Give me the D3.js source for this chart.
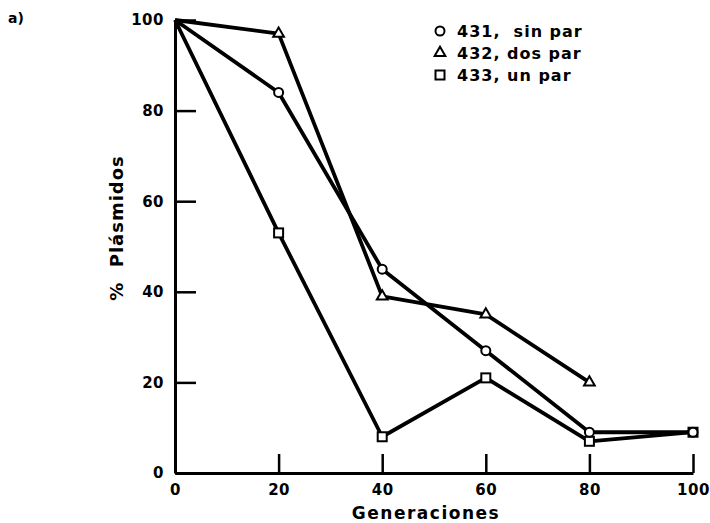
<!DOCTYPE html>
<html>
<head>
<meta charset="utf-8">
<script src="https://cdn.jsdelivr.net/npm/d3@7"></script>
<style>
  body { margin: 0; background: #fff; }
  svg text { font-family: "DejaVu Sans", sans-serif; font-weight: bold; fill: #000; }
</style>
</head>
<body>
<div id="chart"></div>
<script>
// generations on the x axis
const generaciones = [0, 20, 40, 60, 80, 100];
const xTicks = [0, 20, 40, 60, 80, 100];
const yTicks = [0, 20, 40, 60, 80, 100];

// % plasmids retained
const sinPar431 = [100, 84, 45, 27, 9, 9];
const dosPar432 = [100, 97, 39, 35, 20];
const unPar433 = [100, 53, 8, 21, 7, 9];

const seriesNames = ['431,  sin par', '432, dos par', '433, un par'];
const seriesShapes = ['circle', 'triangle', 'square'];

const width = 710;
const height = 523;

const svg = d3.select('#chart')
  .append('svg')
  .attr('width', width)
  .attr('height', height);

const x = d3.scaleLinear().domain([0, 100]).range([175, 693]);
const y = d3.scaleLinear().domain([0, 100]).range([473, 20]);

// axes, ticks point inward
const xAxis = svg.append('g')
  .attr('transform', 'translate(0,' + y(0) + ')')
  .call(d3.axisBottom(x).tickValues(xTicks).tickSizeInner(-19).tickSizeOuter(0).tickPadding(11));

const yAxis = svg.append('g')
  .attr('transform', 'translate(' + x(0) + ',0)')
  .call(d3.axisLeft(y).tickValues(yTicks).tickSizeInner(-21).tickSizeOuter(0).tickPadding(11));

[xAxis, yAxis].forEach(function(ax) {
  ax.select('.domain').attr('stroke', '#000').attr('stroke-width', 3);
  ax.selectAll('.tick line').attr('stroke', '#000').attr('stroke-width', 2.5);
  ax.selectAll('.tick text').style('font-size', '15px').style('letter-spacing', '0.5px');
});

const line = d3.line()
  .x(function(d) { return x(d[0]); })
  .y(function(d) { return y(d[1]); });

const allSeries = [sinPar431, dosPar432, unPar433].map(function(vals) {
  return vals.map(function(v, i) { return [generaciones[i], v]; });
});

svg.selectAll('path.serie')
  .data(allSeries)
  .enter()
  .append('path')
  .attr('class', 'serie')
  .attr('d', line)
  .attr('fill', 'none')
  .attr('stroke', '#000')
  .attr('stroke-width', 3.8)
  .attr('stroke-linejoin', 'round');

function drawMarker(g, shape, cx, cy) {
  if (shape === 'circle') {
    g.append('circle').attr('cx', cx).attr('cy', cy).attr('r', 4.5)
      .attr('fill', '#fff').attr('stroke', '#000').attr('stroke-width', 2);
  } else if (shape === 'square') {
    g.append('rect').attr('x', cx - 4.5).attr('y', cy - 4.5).attr('width', 9).attr('height', 9)
      .attr('fill', '#fff').attr('stroke', '#000').attr('stroke-width', 2);
  } else {
    g.append('path')
      .attr('d', d3.symbol().type(d3.symbolTriangle).size(50)())
      .attr('transform', 'translate(' + cx + ',' + cy + ')')
      .attr('fill', '#fff').attr('stroke', '#000').attr('stroke-width', 2);
  }
}

// squares first so the circle sits on top where they meet at 100
const markers = svg.append('g');
[2, 1, 0].forEach(function(s) {
  allSeries[s].forEach(function(d, i) {
    if (i === 0) return; // origin point is buried under the converging lines
    drawMarker(markers, seriesShapes[s], x(d[0]), y(d[1]));
  });
});

// legend
const legend = svg.append('g');
seriesNames.forEach(function(name, i) {
  const ly = 31 + i * 22;
  drawMarker(legend, seriesShapes[i], 440, ly);
  legend.append('text')
    .attr('x', 457)
    .attr('y', ly + 6)
    .style('font-size', '16px')
    .style('letter-spacing', '1px')
    .style('white-space', 'pre')
    .text(name);
});

svg.append('text')
  .attr('x', 426)
  .attr('y', 519)
  .attr('text-anchor', 'middle')
  .style('font-size', '17px')
  .style('letter-spacing', '1.5px')
  .text('Generaciones');

svg.append('text')
  .attr('transform', 'translate(123,228) rotate(-90)')
  .attr('text-anchor', 'middle')
  .style('font-size', '18px')
  .style('letter-spacing', '1px')
  .style('white-space', 'pre')
  .text('%  Plásmidos');

svg.append('text')
  .attr('x', 8)
  .attr('y', 23)
  .style('font-size', '14px')
  .text('a)');
</script>
</body>
</html>
